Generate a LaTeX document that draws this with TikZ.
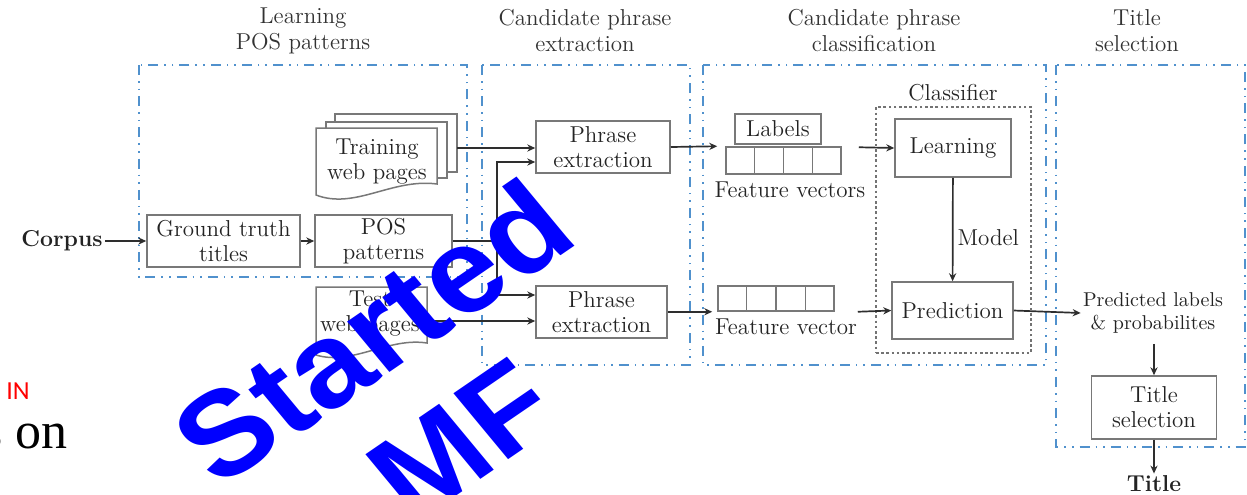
\documentclass[tikz,border=0pt]{standalone}
\usepackage{fontspec}
\usetikzlibrary{arrows.meta,calc}
\newfontfamily\wmfont{Liberation Sans}
\newfontfamily\tmfont{Liberation Serif}
\newfontfamily\clfont{Carlito}
\definecolor{grpblue}{RGB}{80,145,205}
\definecolor{boxgray}{RGB}{120,120,120}
\definecolor{txt}{RGB}{35,35,35}
\definecolor{ttl}{RGB}{50,50,50}
\definecolor{wmblue}{RGB}{0,0,255}
\tikzset{
  grp/.style={draw=grpblue, line width=1pt, dash pattern=on 5pt off 3pt on 0.8pt off 3pt on 0.8pt off 3pt},
  bx/.style={draw=boxgray, line width=0.75pt, fill=white, inner sep=0pt, align=center, text=txt, font=\fontsize{11.5}{12.5}\selectfont},
  vcellbox/.style={draw=boxgray, line width=0.75pt, inner sep=0pt},
  page/.style={draw=boxgray, line width=0.75pt, fill=white},
  lbl/.style={align=center, text=txt, font=\fontsize{11.5}{12.5}\selectfont, inner sep=1pt},
  ttlstyle/.style={align=center, text=ttl, font=\fontsize{11.5}{13}\selectfont},
  arr/.style={draw=black!82, line width=0.85pt, -{Stealth[length=4pt,width=3.6pt]}},
  ln/.style={draw=black!82, line width=0.85pt},
  clsbox/.style={draw=black!55, line width=0.8pt, dash pattern=on 1.3pt off 1.3pt, inner sep=0pt},
  wm/.style={text=wmblue, font=\wmfont\bfseries\fontsize{60}{60}\selectfont, inner sep=0pt, xscale=1.1, rotate=37},
}
\begin{document}
\begin{tikzpicture}[x=0.5pt,y=-0.5pt]
\useasboundingbox (0,0) rectangle (1247,494);

% group containers
\draw[grp] (139,65) rectangle (467,277);
\draw[grp] (482,65) rectangle (690,365);
\draw[grp] (703,65) rectangle (1046,365);
\draw[grp] (1056,65) rectangle (1245,447);

% group titles
\node[ttlstyle] (t1) at (303,31) {Learning\\POS patterns};
\node[ttlstyle] (t2) at (585,31) {Candidate phrase\\extraction};
\node[ttlstyle] (t3) at (874,31) {Candidate phrase\\classification};
\node[ttlstyle] (t4) at (1137,31) {Title\\selection};

% left column
\node[lbl, font=\fontsize{11.5}{12.5}\selectfont\bfseries] (corpus) at (62,241) {Corpus};
\node[bx, minimum width=76.5pt, minimum height=26pt] (gt) at (223.5,241) {Ground truth\\titles};
\node[bx, minimum width=68.5pt, minimum height=26pt] (pos) at (383.5,241) {POS\\patterns};

% training web pages (stack)
\draw[page] (335,114) rectangle (457,172);
\draw[page] (326,122) rectangle (447,178);
\draw[page] (316,128) -- (437,128) -- (437,184) .. controls (392,178) and (355,210) .. (316,195) -- cycle;
\node[lbl] (train) at (377,162) {Training\\web pages};
\coordinate (trainR) at (457,148);

% test web pages
\draw[page] (316,287) -- (427,287) -- (427,343) .. controls (388,337) and (352,366) .. (316,355) -- cycle;
\node[lbl] (test) at (370,314) {Test\\web pages};
\coordinate (testR) at (427,321);

% phrase extraction
\node[bx, minimum width=67pt, minimum height=26pt] (pe1) at (603,147) {Phrase\\extraction};
\node[bx, minimum width=65.5pt, minimum height=26pt] (pe2) at (601.5,312) {Phrase\\extraction};

% feature vectors
\node[bx, minimum width=43pt, minimum height=15pt] (labels) at (778,129) {Labels};
\node[vcellbox, minimum width=57.5pt, minimum height=13.5pt] (fv1) at (783.5,160.5) {};
\node[vcellbox, minimum width=58pt, minimum height=12.5pt] (fv2) at (776,298.5) {};
\foreach \f in {fv1,fv2}{
  \foreach \i in {0.25,0.5,0.75}{
    \draw[boxgray, line width=0.75pt] ($(\f.north west)!\i!(\f.north east)$) -- ($(\f.south west)!\i!(\f.south east)$);
  }
}
\node[lbl] (fv1l) at (790,190) {Feature vectors};
\node[lbl] (fv2l) at (786,327) {Feature vector};

% classifier
\node[clsbox, minimum width=77.5pt, minimum height=123pt] (cls) at (953.5,230) {};
\node[lbl] (clsl) at (953,93) {Classifier};
\node[bx, minimum width=58pt, minimum height=29pt] (learn) at (953,148) {Learning};
\node[bx, minimum width=60.5pt, minimum height=28.5pt] (pred) at (952.5,310.5) {Prediction};

% title selection
\node[align=center, text=txt, font=\fontsize{10}{11.5}\selectfont, inner sep=1pt] (plab) at (1153,313) {Predicted labels\\\& probabilites};
\node[bx, minimum width=62.5pt, minimum height=31.5pt] (tsel) at (1154,407.5) {Title\\selection};
\node[lbl, font=\fontsize{11.5}{12.5}\selectfont\bfseries] (title) at (1154,484) {Title};

% connectors
\draw[arr] (corpus) -- (gt);
\draw[arr] (gt) -- (pos);
\draw[arr] (trainR) -- (trainR -| pe1.west);
\coordinate (jn) at (497,241);
\draw[ln] (pos.east) -- (jn);
\draw[arr] (jn) |- ([yshift=-7.5pt]pe1.west);
\draw[arr] (jn) |- ([yshift=8.5pt]pe2.west);
\draw[arr] (testR) -- (testR -| pe2.west);
\draw[arr] (pe1.east) -- ([xshift=-4pt]fv1.north west);
\draw[arr] (pe2.east |- fv2.south) -- ([xshift=-2.5pt]fv2.south west);
\draw[arr] ([xshift=8.5pt,yshift=-0.5pt]fv1.north east) -- (learn.west);
\draw[arr] ([xshift=11.5pt]fv2.south east) -- (pred.west);
\draw[arr] (learn) -- node[pos=0.58, right, lbl, xshift=1pt] (model) {Model} (pred);
\draw[arr] (pred.east) -- (plab.west);
\draw[arr, shorten <=4pt] (plab.south -| tsel.north) -- (tsel.north);
\draw[arr] (tsel.south) -- (tsel.south |- title.north);

% stray page text
\node[anchor=south west, inner sep=0pt, text=red, font=\clfont\fontsize{13}{13}\selectfont] (inlbl) at (6,400) {IN};
\node[anchor=base east, inner sep=0pt, text=black, font=\tmfont\fontsize{26}{26}\selectfont] (son) at (68,448) {s on};

% watermark
\node[wm] (wm1) at (372,331) {Started};
\node[wm] (wm2) at (462,440) {MF};
\end{tikzpicture}
\end{document}
